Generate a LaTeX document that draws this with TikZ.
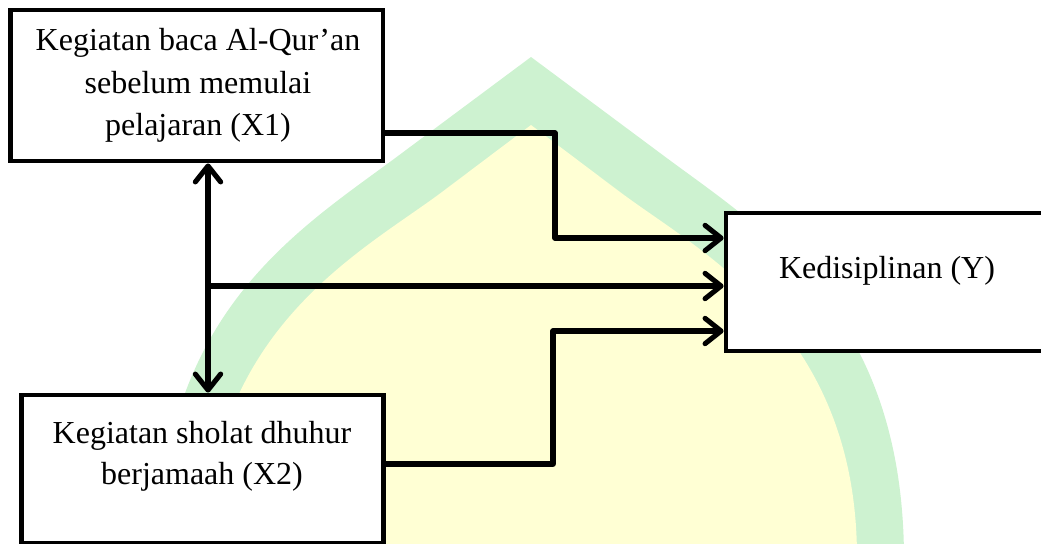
\documentclass[tikz,border=0pt]{standalone}
\usepackage{fontspec}
\setmainfont{Liberation Serif}
\usetikzlibrary{arrows.meta,fit}
\definecolor{crestgreen}{RGB}{205,242,208}
\definecolor{crestyellow}{RGB}{255,255,212}
\tikzset{
  box/.style={draw=black, fill=white, line width=3.6pt, inner sep=0pt},
  label/.style={font=\fontsize{24}{31.5}\selectfont, anchor=base, inner sep=0pt},
  conn/.style={draw=black, line width=3.8pt, line join=round, line cap=round},
  tip/.style={-{Straight Barb[length=12pt,width=19pt,line cap=round,line join=round]}},
  bothtips/.style={{Straight Barb[length=12pt,width=19pt,line cap=round,line join=round]}-{Straight Barb[length=12pt,width=19pt,line cap=round,line join=round]}}
}
\begin{document}
\begin{tikzpicture}[x=0.75pt,y=-0.75pt]
\useasboundingbox (0,0) rectangle (1041,543);
\clip (0,0) rectangle (1041,543);

% pale crest in the background: green rim, yellow face
\fill[crestgreen]
  (531,57) -- (660,153) .. controls (760,228) and (904,310) .. (904,560)
  -- (158,560) .. controls (158,310) and (302,228) .. (402,153) -- cycle;
\fill[crestyellow]
  (531,125) -- (620,192) .. controls (700,252) and (858,330) .. (857,560)
  -- (205,560) .. controls (204,330) and (362,252) .. (442,192) -- cycle;

% corners of the three boxes
\coordinate (a1) at (10.5,10);  \coordinate (b1) at (383,161);
\coordinate (a2) at (21.5,395); \coordinate (b2) at (383.5,543);
\coordinate (ay) at (726,213);  \coordinate (by) at (1080,351);

\node[box, fit=(a1)(b1)] (x1) {};
\node[box, fit=(a2)(b2)] (x2) {};
\node[box, fit=(ay)(by)] (y) {};

% labels
\node[label] (x1l1) at (198,50)  {Kegiatan baca Al-Qur’an};
\node[label] (x1l2) at (198,93)  {sebelum memulai};
\node[label] (x1l3) at (198,135) {pelajaran (X1)};
\node[label] (x2l1) at (202,443) {Kegiatan sholat dhuhur};
\node[label] (x2l2) at (202,484) {berjamaah (X2)};
\node[label] (yl)   at (887,278) {Kedisiplinan (Y)};

% routing points
\coordinate (j)  at (208,286);
\coordinate (k1) at (555,133);
\coordinate (h1) at (555,238);
\coordinate (k2) at (553,464);
\coordinate (h2) at (553,331);

% connectors
\draw[conn,bothtips] (x1.south -| j) -- (x2.north -| j);
\draw[conn,tip] (j) -- (y.west |- j);
\draw[conn,tip] (x1.east |- k1) -- (k1) |- (y.west |- h1);
\draw[conn,tip] (x2.east |- k2) -- (k2) |- (y.west |- h2);
\end{tikzpicture}
\end{document}
